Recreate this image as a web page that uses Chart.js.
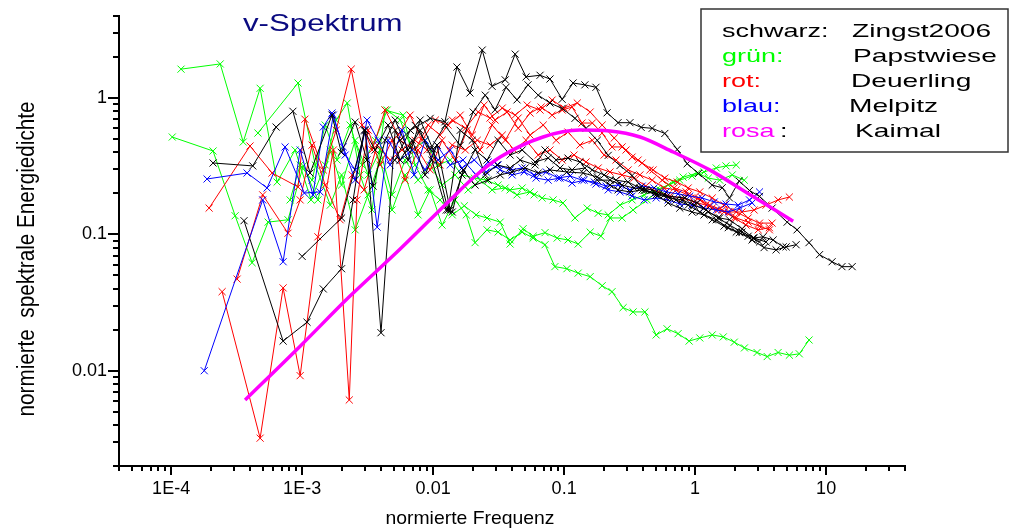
<!DOCTYPE html>
<html>
<head>
<meta charset="utf-8">
<script src="https://cdn.jsdelivr.net/npm/chart.js@4.4.0/dist/chart.umd.min.js"></script>
<style>
  html, body { margin: 0; padding: 0; background: #fff; }
  canvas { display: block; }
</style>
</head>
<body>
<canvas id="chart" width="1011" height="531"></canvas>
<script>
// tick labels
const xTickVals = [1e-4, 1e-3, 1e-2, 0.1, 1, 10];
const xTickLabels = ['1E-4', '1E-3', '0.01', '0.1', '1', '10'];
const yTickVals = [0.01, 0.1, 1];
const yTickLabels = ['0.01', '0.1', '1'];

// legend
const legendKeys = ['schwarz:', 'grün:', 'rot:', 'blau:', 'rosa'];
const legendNames = ['Zingst2006', 'Papstwiese', 'Deuerling', 'Melpitz', 'Kaimal'];
const legendColors = ['#000000', '#00ff00', '#ff0000', '#0000ff', '#ff00ff'];

// Kaimal (rosa)
const kaimalX = [3.67e-4, 9.7e-4, 2.3e-3, 5.6e-3, 0.0135, 0.021, 0.0325, 0.069, 0.132, 0.224, 0.38, 0.68, 1.3, 2.5, 5.6];
const kaimalY = [0.0061, 0.0152, 0.035, 0.078, 0.179, 0.268, 0.369, 0.518, 0.582, 0.573, 0.518, 0.402, 0.296, 0.201, 0.125];

// Zingst2006 (schwarz)
const zingstAX = [5.1e-3, 6.7e-3, 9.5e-3, 0.0123, 0.0152, 0.0191, 0.0237, 0.0282, 0.0355, 0.0423, 0.0512, 0.0655, 0.078, 0.0966, 0.117, 0.144, 0.175, 0.213, 0.258, 0.318, 0.387, 0.47, 0.587, 0.73, 0.87, 1.06, 1.35, 1.61, 1.83, 2.17, 2.6, 3.1, 3.87, 5.04, 6.0, 7.4, 8.9, 11.1, 13.2, 15.8];
const zingstAY = [0.35, 0.58, 0.71, 0.67, 1.69, 1.09, 2.25, 1.22, 1.36, 2.10, 1.43, 1.47, 1.38, 0.98, 1.29, 1.25, 1.20, 0.78, 0.66, 0.66, 0.61, 0.60, 0.55, 0.42, 0.33, 0.28, 0.23, 0.22, 0.185, 0.246, 0.21, 0.19, 0.156, 0.123, 0.108, 0.087, 0.071, 0.063, 0.058, 0.058];
const zingstBX = [5.6e-3, 7.3e-3, 9.5e-3, 0.0123, 0.0161, 0.0202, 0.025, 0.0297, 0.036, 0.0437, 0.053, 0.0634, 0.078, 0.0966, 0.121, 0.147, 0.179, 0.217, 0.267, 0.33, 0.408, 0.504, 0.622, 0.764, 0.948, 1.17, 1.45, 1.79, 2.18, 2.72, 3.36, 4.15, 4.95, 5.9];
const zingstBY = [0.49, 0.63, 0.42, 0.63, 0.45, 0.79, 1.05, 0.82, 1.20, 0.97, 1.25, 1.05, 0.92, 0.84, 0.71, 0.60, 0.49, 0.38, 0.32, 0.27, 0.21, 0.195, 0.17, 0.156, 0.146, 0.139, 0.128, 0.112, 0.103, 0.091, 0.080, 0.077, 0.081, 0.084];
const zingstCX = [2.09e-4, 4.2e-4, 6.33e-4, 8.5e-4, 1.15e-3, 1.69e-3, 1.99e-3, 2.54e-3, 3.13e-3, 3.48e-3, 4.3e-3, 5.13e-3, 6.44e-3, 7.96e-3, 9.8e-3, 0.0126, 0.014, 0.0169, 0.0209, 0.0263, 0.0325, 0.0401, 0.0504, 0.0634, 0.078, 0.105, 0.140, 0.179, 0.224, 0.258, 0.318, 0.394, 0.493, 0.611, 0.834, 1.04, 1.26, 1.54, 1.83, 2.28, 2.77, 3.30, 3.94, 4.70];
const zingstCY = [0.334, 0.318, 0.613, 0.80, 0.282, 0.75, 0.40, 0.667, 0.351, 0.226, 0.49, 0.69, 0.416, 0.58, 0.35, 0.151, 0.146, 0.297, 0.23, 0.25, 0.273, 0.287, 0.307, 0.282, 0.297, 0.287, 0.282, 0.264, 0.23, 0.212, 0.205, 0.212, 0.201, 0.191, 0.185, 0.17, 0.146, 0.132, 0.128, 0.11, 0.094, 0.096, 0.091, 0.081];
const zingstDX = [3.6e-4, 7.16e-4, 1.09e-3, 1.45e-3, 2.0e-3, 2.45e-3, 2.97e-3, 3.61e-3, 4.53e-3, 5.6e-3, 6.92e-3, 8.69e-3, 0.0107, 0.0135, 0.0166, 0.0209, 0.0258, 0.0313, 0.0387, 0.0478, 0.060, 0.0755, 0.093, 0.115, 0.144, 0.179, 0.224, 0.277, 0.342, 0.42, 0.522, 0.641, 0.796, 0.98, 1.21, 1.50, 1.83, 2.28, 2.82, 3.48];
const zingstDY = [0.126, 0.0165, 0.0227, 0.0398, 0.056, 0.179, 0.58, 0.416, 0.634, 0.351, 0.49, 0.273, 0.452, 0.151, 0.273, 0.416, 0.351, 0.49, 0.382, 0.416, 0.34, 0.363, 0.307, 0.297, 0.307, 0.25, 0.25, 0.23, 0.219, 0.212, 0.195, 0.185, 0.179, 0.164, 0.151, 0.132, 0.117, 0.104, 0.094, 0.088];
const zingstEX = [1.0e-3, 2.0e-3, 3.03e-3, 4.0e-3, 5.13e-3, 6.44e-3, 7.96e-3, 0.01, 0.013, 0.0161, 0.0199, 0.025, 0.0308, 0.0387, 0.0462, 0.06, 0.0715, 0.0869, 0.107, 0.132, 0.164, 0.202, 0.249, 0.308, 0.379, 0.47, 0.58, 0.716, 0.885, 1.085, 1.35, 1.66, 2.06, 2.54, 3.1];
const zingstEY = [0.069, 0.132, 0.58, 0.019, 0.58, 0.35, 0.69, 0.42, 0.151, 0.58, 0.49, 0.273, 0.323, 0.307, 0.351, 0.323, 0.416, 0.351, 0.363, 0.34, 0.297, 0.273, 0.25, 0.242, 0.219, 0.212, 0.195, 0.179, 0.164, 0.146, 0.128, 0.115, 0.104, 0.097, 0.088];

// Papstwiese (grün)
const papAX = [1.02e-4, 2.09e-4, 3.08e-4, 4.15e-4, 5.5e-4, 7.8e-4, 1.02e-3, 1.32e-3, 1.64e-3, 2.0e-3, 2.54e-3, 3.19e-3, 3.94e-3, 4.86e-3, 6.11e-3, 7.67e-3, 9.5e-3, 0.0117, 0.0147, 0.0185, 0.0228, 0.0282, 0.0355, 0.0437, 0.055, 0.0679, 0.0824, 0.098, 0.121, 0.15, 0.182, 0.217, 0.267, 0.33, 0.408, 0.504, 0.622, 0.764, 0.948, 1.17, 1.45, 1.72, 2.06];
const papAY = [0.518, 0.409, 0.137, 0.062, 0.123, 0.128, 0.318, 0.179, 0.416, 0.23, 0.49, 0.273, 0.416, 0.195, 0.351, 0.25, 0.323, 0.23, 0.273, 0.212, 0.25, 0.212, 0.219, 0.195, 0.205, 0.185, 0.179, 0.17, 0.132, 0.156, 0.143, 0.139, 0.164, 0.179, 0.195, 0.212, 0.23, 0.25, 0.268, 0.287, 0.307, 0.318, 0.323];
const papBX = [1.19e-4, 2.37e-4, 3.55e-4, 4.78e-4, 6.44e-4, 8.84e-4, 1.17e-3, 1.5e-3, 1.82e-3, 2.21e-3, 2.77e-3, 3.42e-3, 4.3e-3, 5.9e-3, 7.29e-3, 9.16e-3, 0.0113, 0.014, 0.0173, 0.0213, 0.0258, 0.0325, 0.0387, 0.0486, 0.058, 0.0715, 0.0885, 0.107, 0.128, 0.158, 0.191, 0.224, 0.277, 0.336, 0.43, 0.538, 0.679, 0.81, 1.04, 1.26, 1.54, 1.92, 2.37];
const papBY = [1.63, 1.78, 0.476, 1.18, 0.242, 0.416, 0.179, 0.323, 0.69, 0.92, 0.273, 0.151, 0.817, 0.75, 0.323, 0.212, 0.179, 0.139, 0.162, 0.139, 0.132, 0.123, 0.085, 0.11, 0.097, 0.103, 0.094, 0.091, 0.085, 0.104, 0.097, 0.132, 0.132, 0.151, 0.179, 0.212, 0.242, 0.263, 0.282, 0.259, 0.25, 0.273, 0.25];
const papCX = [4.6e-4, 9.3e-4, 1.26e-3, 1.64e-3, 2.0e-3, 2.54e-3, 3.19e-3, 3.94e-3, 4.86e-3, 6.11e-3, 7.67e-3, 9.5e-3, 0.0117, 0.0147, 0.0179, 0.0209, 0.0258, 0.0313, 0.0387, 0.0478, 0.058, 0.0715, 0.085, 0.105, 0.128, 0.158, 0.195, 0.232, 0.282, 0.336, 0.414, 0.504, 0.611, 0.741, 0.90, 1.085, 1.35, 1.64, 1.99, 2.38, 2.97, 3.55, 4.3, 5.24, 6.24, 7.41];
const papCY = [0.554, 1.29, 0.323, 0.164, 0.273, 0.108, 0.195, 0.351, 0.151, 0.273, 0.139, 0.212, 0.117, 0.179, 0.139, 0.087, 0.108, 0.104, 0.091, 0.104, 0.094, 0.084, 0.058, 0.056, 0.052, 0.049, 0.042, 0.038, 0.029, 0.027, 0.027, 0.0183, 0.0203, 0.0187, 0.0165, 0.0174, 0.0183, 0.0177, 0.0162, 0.0147, 0.0136, 0.0127, 0.0136, 0.013, 0.0133, 0.0168];
const papDX = [8.09e-4, 9.66e-4, 1.19e-3, 1.5e-3, 1.85e-3, 2.32e-3, 2.87e-3, 3.61e-3, 4.46e-3, 5.6e-3, 6.92e-3, 8.69e-3, 0.0109, 0.0135, 0.0166, 0.0206, 0.0254, 0.0313, 0.0387, 0.0478, 0.059];
const papDY = [0.179, 0.323, 0.25, 0.634, 0.351, 0.634, 0.323, 0.49, 0.817, 0.69, 0.416, 0.49, 0.323, 0.351, 0.273, 0.259, 0.25, 0.23, 0.212, 0.219, 0.195];

// Deuerling (rot)
const deuAX = [1.95e-4, 4.0e-4, 5.9e-4, 9.3e-4, 1.05e-3, 1.45e-3, 1.82e-3, 2.37e-3, 2.87e-3, 3.42e-3, 4.3e-3, 5.41e-3, 6.67e-3, 8.24e-3, 0.0104, 0.013, 0.0161, 0.0199, 0.0245, 0.0297, 0.0367, 0.0446, 0.055, 0.0667, 0.081, 0.0966, 0.115, 0.137, 0.164, 0.195, 0.232, 0.277, 0.33, 0.394, 0.478, 0.587, 0.73, 0.885, 1.085, 1.35, 1.66, 2.06, 2.54, 3.1, 3.87];
const deuAY = [0.156, 0.445, 0.282, 0.223, 0.70, 0.297, 0.582, 1.63, 0.634, 0.416, 0.817, 0.535, 0.75, 0.49, 0.69, 0.634, 0.75, 0.535, 0.889, 0.69, 0.79, 0.60, 0.776, 0.859, 0.75, 0.817, 0.859, 0.656, 0.656, 0.554, 0.438, 0.438, 0.369, 0.334, 0.297, 0.259, 0.242, 0.219, 0.205, 0.185, 0.164, 0.146, 0.132, 0.121, 0.121];
const deuBX = [2.45e-4, 4.78e-4, 7.16e-4, 9.66e-4, 1.32e-3, 1.73e-3, 2.29e-3, 2.62e-3, 3.19e-3, 3.94e-3, 4.86e-3, 6.11e-3, 7.67e-3, 9.5e-3, 0.0117, 0.0147, 0.0182, 0.0228, 0.0282, 0.0355, 0.0446, 0.055, 0.0692, 0.0869, 0.107, 0.132, 0.164, 0.202, 0.249, 0.308, 0.379, 0.47, 0.58, 0.716, 0.885, 1.085, 1.35, 1.66, 2.06, 2.54, 3.1, 3.69];
const deuBY = [0.038, 0.0032, 0.0405, 0.0092, 0.096, 0.416, 0.0061, 0.179, 0.582, 0.323, 0.49, 0.25, 0.416, 0.297, 0.49, 0.351, 0.582, 0.416, 0.634, 0.49, 0.714, 0.535, 0.634, 0.49, 0.563, 0.452, 0.49, 0.382, 0.351, 0.297, 0.273, 0.25, 0.219, 0.212, 0.195, 0.179, 0.156, 0.146, 0.132, 0.123, 0.115, 0.108];
const deuCX = [3.19e-4, 5.0e-4, 7.8e-4, 9.66e-4, 1.19e-3, 1.5e-3, 1.95e-3, 2.41e-3, 2.97e-3, 3.74e-3, 4.7e-3, 5.79e-3, 7.29e-3, 9.0e-3, 0.0113, 0.014, 0.0176, 0.0217, 0.0272, 0.0337, 0.0415, 0.0512, 0.0634, 0.078, 0.0966, 0.119, 0.147, 0.182, 0.224, 0.277, 0.342, 0.42, 0.522, 0.641, 0.796, 0.98, 1.21, 1.50, 1.83, 2.28, 2.82, 3.48, 4.3, 5.24];
const deuCY = [0.047, 0.195, 0.102, 0.179, 0.452, 0.23, 0.128, 0.273, 0.212, 0.452, 0.351, 0.416, 0.49, 0.416, 0.323, 0.452, 0.416, 0.49, 0.452, 0.535, 0.416, 0.49, 0.382, 0.416, 0.351, 0.382, 0.34, 0.307, 0.287, 0.273, 0.259, 0.226, 0.205, 0.191, 0.185, 0.173, 0.164, 0.151, 0.146, 0.146, 0.151, 0.164, 0.179, 0.188];
const deuDX = [5.6e-3, 7.29e-3, 9.16e-3, 0.0113, 0.014, 0.0176, 0.0221, 0.0272, 0.0337, 0.0423, 0.0522, 0.0655, 0.081, 0.10, 0.126, 0.158, 0.195, 0.241, 0.297, 0.367, 0.452, 0.56, 0.692, 0.853, 1.06, 1.29, 1.61, 1.99, 2.45, 3.03, 3.69];
const deuDY = [0.49, 0.416, 0.634, 0.535, 0.69, 0.60, 0.79, 0.714, 0.845, 0.75, 0.889, 0.817, 0.967, 0.845, 0.92, 0.79, 0.634, 0.509, 0.416, 0.351, 0.297, 0.25, 0.219, 0.205, 0.185, 0.164, 0.151, 0.132, 0.117, 0.108, 0.112];

// Melpitz (blau)
const melAX = [1.79e-4, 5.0e-4, 7.16e-4, 9.66e-4, 1.21e-3, 1.45e-3, 1.69e-3, 2.06e-3, 2.54e-3, 3.13e-3, 3.8e-3, 4.7e-3, 5.79e-3, 7.16e-3, 8.69e-3, 0.0109, 0.0135, 0.0166, 0.0206, 0.0254, 0.0313, 0.0387, 0.0478, 0.059, 0.073, 0.09, 0.111, 0.137, 0.17, 0.209, 0.258, 0.318, 0.394, 0.486, 0.60, 0.741, 0.91, 1.13, 1.40, 1.72, 2.13, 2.6, 3.1];
const melAY = [0.01, 0.179, 0.063, 0.416, 0.195, 0.613, 0.776, 0.438, 0.25, 0.69, 0.49, 0.323, 0.582, 0.273, 0.49, 0.351, 0.416, 0.307, 0.351, 0.287, 0.323, 0.297, 0.307, 0.273, 0.287, 0.259, 0.268, 0.25, 0.242, 0.226, 0.23, 0.212, 0.226, 0.219, 0.205, 0.198, 0.191, 0.185, 0.173, 0.167, 0.164, 0.179, 0.205];
const melBX = [1.88e-4, 3.8e-4, 5.4e-4, 7.41e-4, 1.04e-3, 1.37e-3, 1.73e-3, 2.13e-3, 2.54e-3, 3.03e-3, 3.74e-3, 4.53e-3, 5.6e-3, 6.92e-3, 8.69e-3, 0.0107, 0.0135, 0.0169, 0.0213, 0.0263, 0.0325, 0.0401, 0.0495, 0.0611, 0.0755, 0.093, 0.115, 0.142, 0.175, 0.217, 0.267, 0.33, 0.408, 0.504, 0.622, 0.764, 0.948, 1.17, 1.45, 1.79, 2.18, 2.72];
const melBY = [0.255, 0.282, 0.219, 0.438, 0.201, 0.205, 0.75, 0.382, 0.297, 0.582, 0.113, 0.49, 0.351, 0.416, 0.297, 0.452, 0.323, 0.351, 0.273, 0.34, 0.297, 0.273, 0.287, 0.259, 0.25, 0.259, 0.238, 0.25, 0.234, 0.212, 0.205, 0.191, 0.179, 0.185, 0.179, 0.167, 0.164, 0.156, 0.151, 0.146, 0.156, 0.17];

const FONT = '"Liberation Sans", Arial, sans-serif';

function series(xs, ys, color) {
    return {
        data: xs.map((x, i) => ({ x: x, y: ys[i] })),
        borderColor: color,
        backgroundColor: color,
        borderWidth: 1,
        pointStyle: 'crossRot',
        pointRadius: 5,
        pointBorderWidth: 1,
        pointBorderColor: color,
        pointHoverRadius: 5,
        tension: 0,
        fill: false
    };
}

const kaimal = series(kaimalX, kaimalY, '#ff00ff');
kaimal.borderWidth = 3.5;
kaimal.pointRadius = 0;
kaimal.cubicInterpolationMode = 'monotone';

const datasets = [
    kaimal,
    series(zingstAX, zingstAY, '#000000'),
    series(zingstBX, zingstBY, '#000000'),
    series(zingstCX, zingstCY, '#000000'),
    series(zingstDX, zingstDY, '#000000'),
    series(zingstEX, zingstEY, '#000000'),
    series(melAX, melAY, '#0000ff'),
    series(melBX, melBY, '#0000ff'),
    series(deuAX, deuAY, '#ff0000'),
    series(deuBX, deuBY, '#ff0000'),
    series(deuCX, deuCY, '#ff0000'),
    series(deuDX, deuDY, '#ff0000'),
    series(papAX, papAY, '#00ff00'),
    series(papBX, papBY, '#00ff00'),
    series(papCX, papCY, '#00ff00'),
    series(papDX, papDY, '#00ff00')
];

function findLabel(vals, labels, v) {
    for (let i = 0; i < vals.length; i++) {
        if (Math.abs(Math.log10(vals[i]) - Math.log10(v)) < 1e-6) return labels[i];
    }
    return '';
}

function stretchText(ctx, text, x, y, size, color, sx, align) {
    ctx.save();
    ctx.translate(x, y);
    ctx.scale(sx, 1);
    ctx.font = size + 'px ' + FONT;
    ctx.fillStyle = color;
    ctx.textAlign = align || 'left';
    ctx.textBaseline = 'middle';
    ctx.fillText(text, 0, 0);
    ctx.restore();
}

// tick marks, titles and the legend box
const decor = {
    id: 'decor',
    afterDraw(chart) {
        const ctx = chart.ctx;
        const xs = chart.scales.x, ys = chart.scales.y;
        const area = chart.chartArea;
        ctx.save();
        ctx.strokeStyle = '#000';
        ctx.lineWidth = 2;
        ctx.beginPath();
        for (let e = -5; e <= 1; e++) {
            for (let m = 1; m <= 9; m++) {
                const v = m * Math.pow(10, e);
                if (v < xs.min * 0.999 || v > xs.max * 1.001) continue;
                const px = Math.round(xs.getPixelForValue(v));
                ctx.moveTo(px, area.bottom);
                ctx.lineTo(px, area.bottom + (m === 1 ? 9 : 5));
            }
        }
        for (let e = -3; e <= 0; e++) {
            for (let m = 1; m <= 9; m++) {
                const v = m * Math.pow(10, e);
                if (v < ys.min * 0.999 || v > ys.max * 1.001) continue;
                const py = Math.round(ys.getPixelForValue(v));
                ctx.moveTo(area.left, py);
                ctx.lineTo(area.left - (m === 1 ? 11 : 6), py);
            }
        }
        ctx.stroke();

        // title
        ctx.save();
        ctx.translate(243, 31);
        ctx.scale(1.3, 1);
        ctx.font = '24px ' + FONT;
        ctx.fillStyle = '#0a0a80';
        ctx.textBaseline = 'alphabetic';
        ctx.fillText('v-Spektrum', 0, 0);
        ctx.restore();

        // axis titles
        stretchText(ctx, 'normierte Frequenz', 470, 519, 19, '#000', 1.02, 'center');
        ctx.save();
        ctx.translate(27, 259);
        ctx.rotate(-Math.PI / 2);
        ctx.scale(0.94, 1.1);
        ctx.font = '22px ' + FONT;
        ctx.fillStyle = '#000';
        ctx.textAlign = 'center';
        ctx.textBaseline = 'middle';
        ctx.fillText('normierte  spektrale Energiedichte', 0, 0);
        ctx.restore();

        // legend box
        ctx.fillStyle = '#fff';
        ctx.fillRect(701, 9, 307, 143);
        ctx.lineWidth = 1.5;
        ctx.strokeStyle = '#333';
        ctx.strokeRect(701, 9, 307, 143);
        const rowY = [32, 57, 82, 107, 132];
        const nameX = [852, 853, 851, 849, 855];
        for (let i = 0; i < legendKeys.length; i++) {
            stretchText(ctx, legendKeys[i], 722, rowY[i], 19, legendColors[i], 1.42, 'left');
            stretchText(ctx, legendNames[i], nameX[i], rowY[i], 19, '#000', 1.48, 'left');
        }
        stretchText(ctx, ':', 780, rowY[4], 19, '#000', 1.42, 'left');
        ctx.restore();
    }
};

new Chart(document.getElementById('chart'), {
    type: 'line',
    data: { datasets: datasets },
    options: {
        responsive: false,
        animation: false,
        events: [],
        layout: { padding: { top: 16, right: 106, left: 0, bottom: 0 } },
        plugins: {
            legend: { display: false },
            tooltip: { enabled: false },
            title: { display: false }
        },
        scales: {
            x: {
                type: 'logarithmic',
                position: 'bottom',
                min: 4e-5,
                max: 40,
                border: { display: true, color: '#000', width: 2 },
                grid: { display: true, drawOnChartArea: false, drawTicks: true, tickLength: 10, color: 'rgba(0,0,0,0)', tickColor: 'rgba(0,0,0,0)' },
                ticks: {
                    autoSkip: false, maxRotation: 0, padding: 2, color: '#000',
                    font: { family: FONT, size: 18 },
                    callback: (v) => findLabel(xTickVals, xTickLabels, v)
                },
                afterBuildTicks: (s) => { s.ticks = xTickVals.map(v => ({ value: v })); },
                afterFit: (s) => { s.height = 65; }
            },
            y: {
                type: 'logarithmic',
                position: 'left',
                min: 0.002,
                max: 4,
                border: { display: true, color: '#000', width: 2 },
                grid: { display: true, drawOnChartArea: false, drawTicks: true, tickLength: 9, color: 'rgba(0,0,0,0)', tickColor: 'rgba(0,0,0,0)' },
                ticks: {
                    autoSkip: false, padding: 3, color: '#000',
                    font: { family: FONT, size: 18 },
                    callback: (v) => findLabel(yTickVals, yTickLabels, v)
                },
                afterBuildTicks: (s) => { s.ticks = yTickVals.map(v => ({ value: v })); },
                afterFit: (s) => { s.width = 119; }
            }
        }
    },
    plugins: [decor]
});
</script>
</body>
</html>
